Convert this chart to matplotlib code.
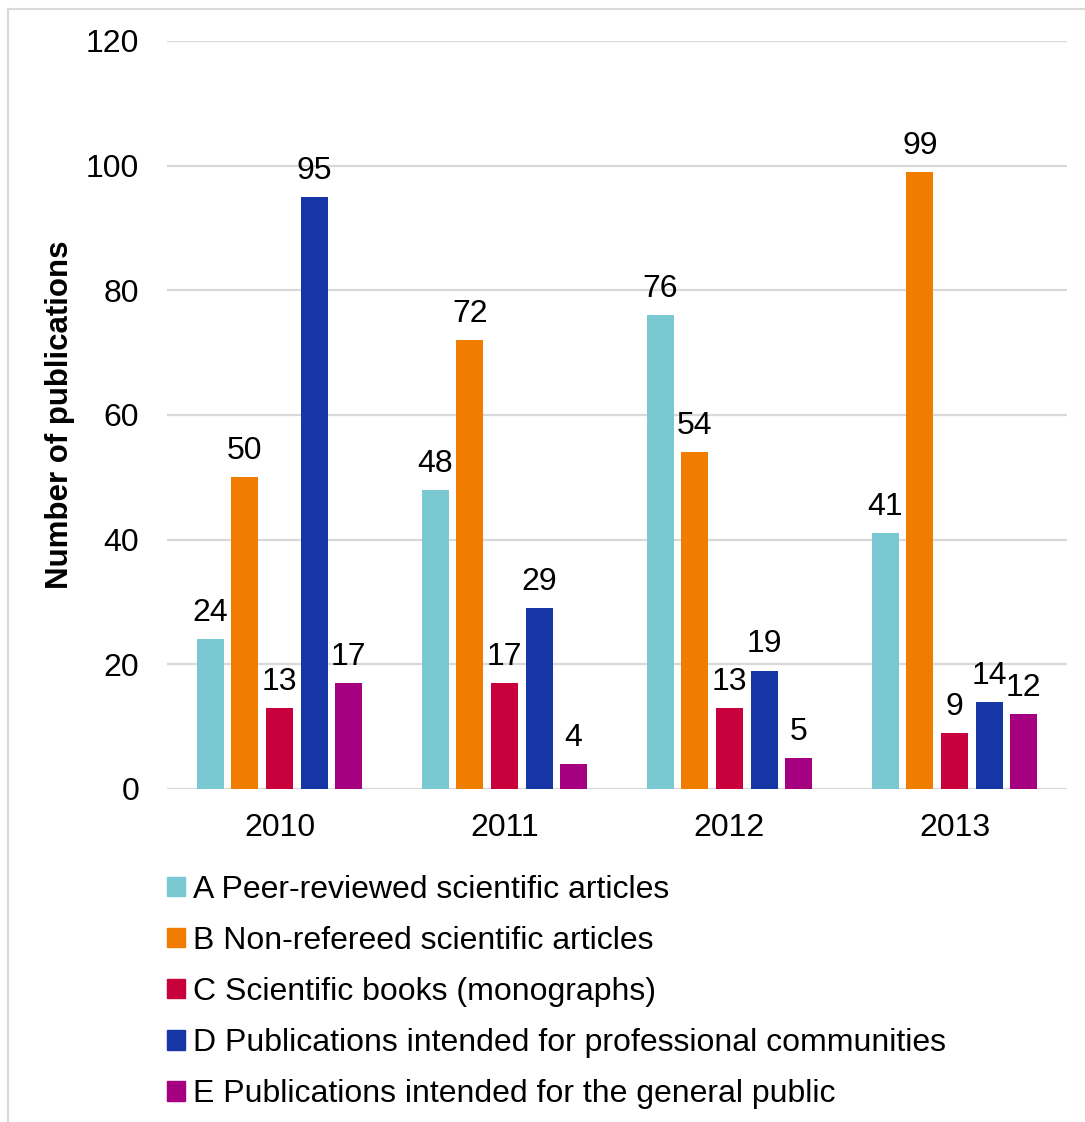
import matplotlib.pyplot as plt
import numpy as np
from matplotlib.patches import Patch

plt.rcParams['font.family'] = ['Liberation Sans', 'DejaVu Sans']

years = ['2010', '2011', '2012', '2013']
series_names = [
    'A Peer-reviewed scientific articles',
    'B Non-refereed scientific articles',
    'C Scientific books (monographs)',
    'D Publications intended for professional communities',
    'E Publications intended for the general public',
]
peer_reviewed = [24, 48, 76, 41]
non_refereed = [50, 72, 54, 99]
books = [13, 17, 13, 9]
professional = [95, 29, 19, 14]
general_public = [17, 4, 5, 12]
colors = ['#7AC8D2', '#F07D00', '#C8003C', '#1636A5', '#A5007F']


def main():
    W, H = 1085, 1122
    fig = plt.figure(figsize=(W / 100, H / 100), dpi=100)
    ax = fig.add_axes([167 / W, 1 - 789 / H, 900 / W, 748 / H])

    values = [peer_reviewed, non_refereed, books, professional, general_public]
    x = np.arange(len(years))
    width = 0.12
    pitch = 0.1535
    for i, (vals, c) in enumerate(zip(values, colors)):
        pos = x + (i - 2) * pitch
        bars = ax.bar(pos, vals, width, color=c, zorder=3)
        for b, v in zip(bars, vals):
            ax.text(b.get_x() + b.get_width() / 2, v + 1.8, str(v),
                    ha='center', va='bottom', fontsize=23, color='black')

    ax.set_xlim(-0.5, 3.5)
    ax.set_ylim(0, 120)
    ax.set_yticks(range(0, 121, 20))
    ax.set_xticks(x)
    ax.set_xticklabels(years)
    ax.tick_params(axis='both', length=0, labelsize=23)
    ax.tick_params(axis='y', pad=20)
    ax.tick_params(axis='x', pad=17)
    ax.grid(axis='y', color='#D9D9D9', linewidth=1.6, zorder=0)
    for s in ax.spines.values():
        s.set_visible(False)
    ax.set_ylabel('Number of publications', fontsize=22.5, fontweight='bold')
    ax.yaxis.set_label_coords(-92 / 900, 0.5)

    handles = [Patch(color=c) for c in colors]
    fig.legend(handles, series_names, loc='upper left',
               bbox_to_anchor=(151 / W, 1 - 859 / H), frameon=False,
               fontsize=23, handlelength=0.55, handleheight=0.55,
               handletextpad=0.25, labelspacing=0.66, borderpad=0)

    # chart area border
    fig.add_artist(plt.Line2D([8 / W, 8 / W], [0, 1 - 9 / H], color='#D9D9D9', lw=1.5))
    fig.add_artist(plt.Line2D([8 / W, 1], [1 - 9 / H, 1 - 9 / H], color='#D9D9D9', lw=1.5))

    fig.savefig('out.png', dpi=100)


if __name__ == '__main__':
    main()
